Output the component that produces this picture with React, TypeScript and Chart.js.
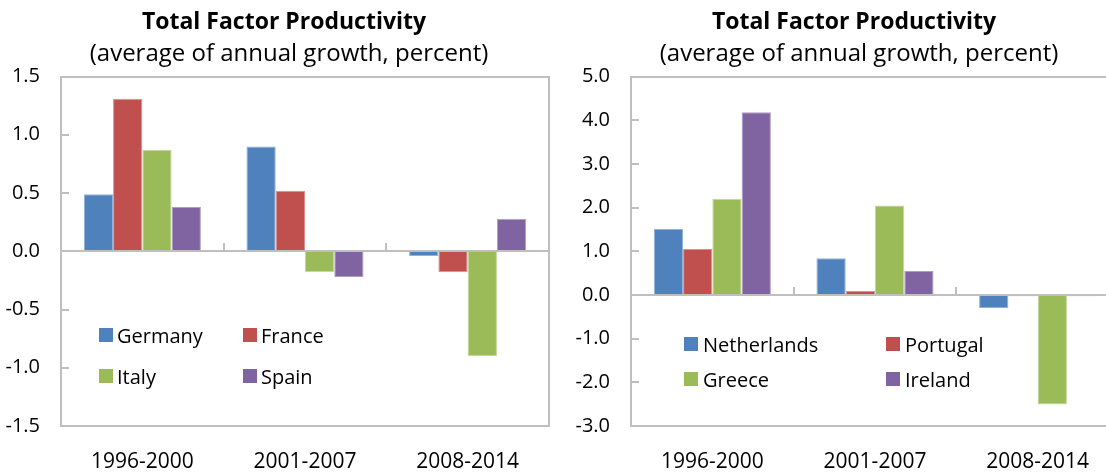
import React, { useEffect, useRef } from "react";
import { Chart, registerables } from "chart.js";

Chart.register(...registerables);

// ---------- data ----------
const categories = ["1996-2000", "2001-2007", "2008-2014"];

const chartTitle = "Total Factor Productivity";
const chartSubtitle = "(average of annual growth, percent)";

const leftSeriesNames = ["Germany", "France", "Italy", "Spain"];
const germany = [0.49, 0.9, -0.04];
const france = [1.31, 0.52, -0.18];
const italy = [0.87, -0.18, -0.9];
const spain = [0.38, -0.22, 0.28];

const rightSeriesNames = ["Netherlands", "Portugal", "Greece", "Ireland"];
const netherlands = [1.51, 0.84, -0.3];
const portugal = [1.05, 0.09, -0.03];
const greece = [2.2, 2.05, -2.51];
const ireland = [4.18, 0.55, -0.03];

const leftAxisRange = [-1.5, 1.5];
const leftAxisStep = 0.5;
const rightAxisRange = [-3, 5];
const rightAxisStep = 1;

// ---------- styles ----------
const FONT = "'Open Sans', 'Noto Sans', sans-serif";
const barColors = ["#4F81BD", "#C0504D", "#9BBB59", "#8064A2"];
const edgeColors = ["#8FB0D8", "#DA908E", "#C3D89E", "#AE9DC6"];
const frameColor = "#BFBFBF";

const framePlugin = {
  id: "frame",
  afterDatasetsDraw(chart: any) {
    const { ctx, chartArea: a, scales } = chart;
    const x = scales.x;
    const y = scales.y;
    ctx.save();
    ctx.strokeStyle = frameColor;
    ctx.lineWidth = 2;
    const L = Math.round(a.left);
    const R = Math.round(a.right);
    const T = Math.round(a.top);
    const B = Math.round(a.bottom);
    ctx.beginPath();
    ctx.rect(L, T, R - L, B - T);
    ctx.stroke();
    const y0 = Math.round(y.getPixelForValue(0));
    ctx.beginPath();
    ctx.moveTo(L, y0);
    ctx.lineTo(R, y0);
    ctx.stroke();
    y.ticks.forEach((t: any) => {
      const py = Math.round(y.getPixelForValue(t.value));
      ctx.beginPath();
      ctx.moveTo(L, py);
      ctx.lineTo(L + 8, py);
      ctx.stroke();
    });
    const n = chart.data.labels.length;
    for (let i = 1; i < n; i++) {
      const px = Math.round((x.getPixelForValue(i - 1) + x.getPixelForValue(i)) / 2);
      ctx.beginPath();
      ctx.moveTo(px, y0);
      ctx.lineTo(px, y0 - 8);
      ctx.stroke();
    }
    ctx.restore();
  },
};

const insideLegendPlugin = {
  id: "insideLegend",
  afterDraw(chart: any, _args: any, opts: any) {
    const { ctx } = chart;
    ctx.save();
    ctx.font = `20px ${FONT}`;
    ctx.textAlign = "left";
    ctx.textBaseline = "alphabetic";
    chart.data.datasets.forEach((ds: any, i: number) => {
      const col = i % 2;
      const row = Math.floor(i / 2);
      const bx = opts.x[col];
      const by = opts.y[row];
      ctx.fillStyle = ds.backgroundColor;
      ctx.fillRect(bx, by, 14, 14);
      ctx.fillStyle = "#000";
      ctx.fillText(ds.label, bx + opts.gap, by + 14.5);
    });
    ctx.restore();
  },
};

const headingPlugin = {
  id: "heading",
  afterDraw(chart: any, _args: any, opts: any) {
    const { ctx } = chart;
    ctx.save();
    ctx.fillStyle = "#000";
    ctx.textAlign = "center";
    ctx.textBaseline = "alphabetic";
    ctx.font = `bold 23px ${FONT}`;
    ctx.fillText(opts.title, opts.titleX, 29);
    ctx.font = `24px ${FONT}`;
    ctx.fillText(opts.subtitle, opts.subtitleX, 60.5);
    ctx.restore();
  },
};

type PanelProps = {
  names: string[];
  series: number[][];
  range: number[];
  step: number;
  legendX: number[];
  legendY: number[];
  legendGap: number;
  left: number;
};

function BarPanel(p: PanelProps) {
  const ref = useRef<HTMLCanvasElement>(null);
  useEffect(() => {
    const chart = new Chart(ref.current as HTMLCanvasElement, {
      type: "bar",
      data: {
        labels: categories,
        datasets: p.series.map((d, i) => ({
          label: p.names[i],
          data: d,
          backgroundColor: barColors[i],
          borderColor: edgeColors[i],
          borderWidth: 1,
          categoryPercentage: 0.72,
          barPercentage: 1,
        })),
      },
      options: {
        responsive: false,
        devicePixelRatio: 1,
        animation: false,
        events: [],
        layout: { padding: { top: 76.5, right: 21, bottom: 0, left: 0 } },
        scales: {
          x: {
            grid: { display: false },
            border: { display: false },
            ticks: {
              color: "#000",
              font: { family: FONT, size: 21 },
              padding: 15,
              maxRotation: 0,
            },
            afterFit: (s: any) => {
              s.height = 46;
            },
          },
          y: {
            min: p.range[0],
            max: p.range[1],
            grid: { display: false, drawTicks: false },
            border: { display: false },
            ticks: {
              stepSize: p.step,
              color: "#000",
              font: { family: FONT, size: 20 },
              padding: 21,
              callback: (v: any) => Number(v).toFixed(1),
            },
            afterFit: (s: any) => {
              s.width = 61;
            },
          },
        },
        plugins: {
          legend: { display: false },
          tooltip: { enabled: false },
          title: { display: false },
          heading: { title: chartTitle, subtitle: chartSubtitle, titleX: 284, subtitleX: 289 },
          insideLegend: { x: p.legendX, y: p.legendY, gap: p.legendGap },
        } as any,
      },
      plugins: [framePlugin, insideLegendPlugin, headingPlugin],
    });
    return () => chart.destroy();
  }, []);
  return (
    <canvas
      ref={ref}
      width={570}
      height={472}
      style={{ position: "absolute", left: p.left, top: 0, width: 570, height: 472 }}
    />
  );
}

export default function App() {
  return (
    <div
      style={{
        position: "fixed",
        left: 0,
        top: 0,
        width: 1106,
        height: 472,
        overflow: "hidden",
        background: "#fff",
      }}
    >
      <BarPanel
        names={leftSeriesNames}
        series={[germany, france, italy, spain]}
        range={leftAxisRange}
        step={leftAxisStep}
        legendX={[99, 243]}
        legendY={[328, 369]}
        legendGap={18}
        left={0}
      />
      <BarPanel
        names={rightSeriesNames}
        series={[netherlands, portugal, greece, ireland]}
        range={rightAxisRange}
        step={rightAxisStep}
        legendX={[114, 316]}
        legendY={[337, 372]}
        legendGap={19}
        left={570}
      />
    </div>
  );
}
